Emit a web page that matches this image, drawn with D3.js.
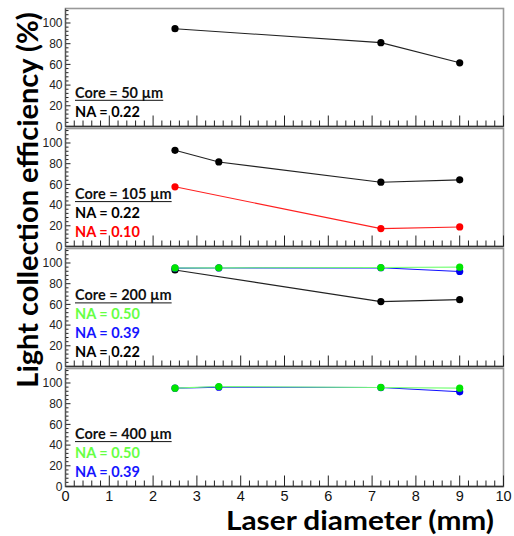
<!DOCTYPE html>
<html><head><meta charset="utf-8">
<script src="https://cdn.jsdelivr.net/npm/d3@7"></script>
<style>body{margin:0;background:#fff}svg{display:block}</style>
</head><body>
<svg id="c" width="514" height="536"></svg>
<script>
// ---- data ----
const xTicks = [0,1,2,3,4,5,6,7,8,9,10];
const yTicks = [0,20,40,60,80,100];
const coreLabels = ["Core = 50 \u00b5m","Core = 105 \u00b5m","Core = 200 \u00b5m","Core = 400 \u00b5m"];

// Core 50 um
const c50_na022_x = [2.5, 7.2, 9];
const c50_na022_y = [94.5, 81, 61.5];
// Core 105 um
const c105_na022_x = [2.5, 3.5, 7.2, 9];
const c105_na022_y = [92.9, 81.7, 62.1, 64.4];
const c105_na010_x = [2.5, 7.2, 9];
const c105_na010_y = [57.7, 17.3, 18.9];
// Core 200 um
const c200_na022_x = [2.5, 7.2, 9];
const c200_na022_y = [93.3, 62.7, 64.6];
const c200_na039_x = [2.5, 3.5, 7.2, 9];
const c200_na039_y = [95.0, 95.2, 95.4, 91.8];
const c200_na050_x = [2.5, 3.5, 7.2, 9];
const c200_na050_y = [95.2, 95.3, 95.6, 96];
// Core 400 um
const c400_na039_x = [2.5, 3.5, 7.2, 9];
const c400_na039_y = [95.0, 96.0, 95.6, 91.5];
const c400_na050_x = [2.5, 3.5, 7.2, 9];
const c400_na050_y = [95.0, 96.6, 95.7, 95.0];

const COL = {
  na022:{line:"#222", mark:"#000", text:"#000"},
  na010:{line:"#ff2020", mark:"#ff0000", text:"#ff0000"},
  na039:{line:"#1010ff", mark:"#0000ee", text:"#1515ff"},
  na050:{line:"#77ff77", mark:"#00e600", text:"#66ff44"}
};

const panels = [
  {core:coreLabels[0], series:[{k:"na022",x:c50_na022_x,y:c50_na022_y}],
   legend:[{t:"NA = 0.22",k:"na022"}]},
  {core:coreLabels[1], series:[{k:"na010",x:c105_na010_x,y:c105_na010_y},{k:"na022",x:c105_na022_x,y:c105_na022_y}],
   legend:[{t:"NA = 0.22",k:"na022"},{t:"NA = 0.10",k:"na010"}]},
  {core:coreLabels[2], series:[{k:"na022",x:c200_na022_x,y:c200_na022_y},{k:"na039",x:c200_na039_x,y:c200_na039_y},{k:"na050",x:c200_na050_x,y:c200_na050_y}],
   legend:[{t:"NA = 0.50",k:"na050"},{t:"NA = 0.39",k:"na039"},{t:"NA = 0.22",k:"na022"}]},
  {core:coreLabels[3], series:[{k:"na039",x:c400_na039_x,y:c400_na039_y},{k:"na050",x:c400_na050_x,y:c400_na050_y}],
   legend:[{t:"NA = 0.50",k:"na050"},{t:"NA = 0.39",k:"na039"}]}
];

// ---- layout ----
const svg = d3.select("#c");
const left = 65.5, right = 503.5;
const tops = [8.5, 128.5, 248.5, 368.5];
const ph = 118;
const x = d3.scaleLinear().domain([0,10]).range([left,right]);
const FONT_T = "Lato, 'Open Sans', sans-serif";
const FONT_N = "'Liberation Sans', Arial, sans-serif";

panels.forEach((p,i)=>{
  const top = tops[i], bot = top+ph;
  const y = d3.scaleLinear().domain([0,114]).range([bot, top]);
  const g = svg.append("g");
  g.append("rect").attr("x",left).attr("y",top).attr("width",right-left).attr("height",ph)
    .attr("fill","none").attr("stroke","#999").attr("stroke-width",1.6);
  const xMinor = d3.range(0,10.01,0.2).map(v=>+v.toFixed(1));
  g.selectAll(".xt").data(xMinor).join("line")
    .attr("x1",d=>x(d)).attr("x2",d=>x(d))
    .attr("y1",bot).attr("y2",d=>Math.abs(d-Math.round(d))<1e-6 ? bot-11 : bot-6)
    .attr("stroke","#222").attr("stroke-width",1);
  const yMinor = d3.range(0,114,4);
  g.selectAll(".yt").data(yMinor).join("line")
    .attr("x1",left).attr("x2",d=>d%20===0 ? left+5 : left+3)
    .attr("y1",d=>y(d)).attr("y2",d=>y(d))
    .attr("stroke","#222").attr("stroke-width",1);
  g.append("line").attr("x1",left).attr("x2",right).attr("y1",bot).attr("y2",bot).attr("stroke","#333").attr("stroke-width",1.6);
  g.append("line").attr("x1",left).attr("x2",left).attr("y1",top).attr("y2",bot).attr("stroke","#555").attr("stroke-width",1.2);
  g.selectAll(".yl").data(yTicks).join("text")
    .attr("x",left-3).attr("y",d=>y(d)).attr("dy","0.36em")
    .attr("text-anchor","end").attr("font-family",FONT_N).attr("font-size",12).attr("fill","#222")
    .text(d=>d);
  const line = d3.line().x(d=>x(d[0])).y(d=>y(d[1]));
  p.series.forEach(s=>{
    const pts = s.x.map((v,j)=>[v,s.y[j]]);
    g.append("path").attr("d",line(pts)).attr("fill","none").attr("stroke",COL[s.k].line).attr("stroke-width",1.1);
    g.selectAll(null).data(pts).join("circle")
      .attr("cx",d=>x(d[0])).attr("cy",d=>y(d[1])).attr("r",3.6).attr("fill",COL[s.k].mark);
  });
  const lx = 75;
  const n = p.legend.length;
  const lineH = 18.7;
  const lastBase = bot - 10;
  const coreBase = lastBase - n*lineH;
  const ct = g.append("text").attr("x",lx).attr("y",coreBase).attr("font-family",FONT_T).attr("font-weight",700)
    .attr("font-size",14.5).attr("fill","#111").text(p.core);
  const w = ct.node().getComputedTextLength();
  g.append("line").attr("x1",lx).attr("x2",lx+w).attr("y1",coreBase+2.5).attr("y2",coreBase+2.5).attr("stroke","#111").attr("stroke-width",1);
  p.legend.forEach((l,j)=>{
    g.append("text").attr("x",lx).attr("y",coreBase+(j+1)*lineH).attr("font-family",FONT_T).attr("font-weight",700)
      .attr("font-size",14.5).attr("fill",COL[l.k].text).text(l.t);
  });
});

svg.selectAll(".xl").data(xTicks).join("text")
  .attr("x",d=>x(d)).attr("y",500.5).attr("text-anchor","middle")
  .attr("font-family",FONT_N).attr("font-size",14.5).attr("fill","#111").text(d=>d);

svg.append("text").attr("x",360).attr("y",530).attr("text-anchor","middle")
  .attr("font-family",FONT_T).attr("font-weight",700).attr("font-size",26)
  .attr("textLength",268).attr("lengthAdjust","spacingAndGlyphs").attr("fill","#000")
  .text("Laser diameter (mm)");
svg.append("text").attr("transform","translate(38,200) rotate(-90)").attr("text-anchor","middle")
  .attr("font-family",FONT_T).attr("font-weight",700).attr("font-size",29).attr("fill","#000")
  .text("Light collection efficiency (%)");
</script>
</body></html>
